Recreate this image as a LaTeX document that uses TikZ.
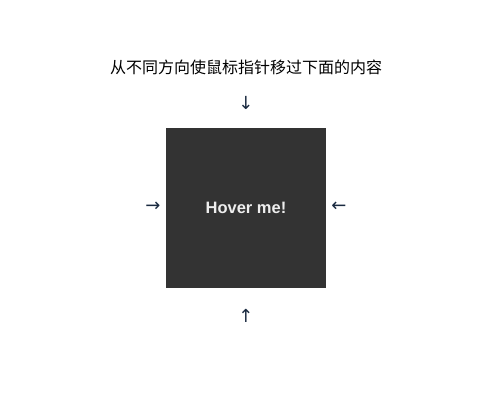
\documentclass[tikz,border=0pt]{standalone}
\usepackage{fontspec}
\setmainfont{Liberation Sans}
\newfontfamily\cjk{Noto Sans CJK SC}
\newfontfamily\arrowfont{DejaVu Sans}
\definecolor{boxgray}{HTML}{333333}
\definecolor{hovertext}{HTML}{EEEEEE}
\definecolor{arrowcol}{HTML}{1A2A40}
\begin{document}
\begin{tikzpicture}[x=1pt,y=-1pt,
  title/.style={font=\cjk\fontsize{16}{19}\selectfont, text=black, inner sep=0pt},
  hoverbox/.style={fill=boxgray, minimum width=160pt, minimum height=160pt, inner sep=0pt,
    text=hovertext, font=\bfseries\fontsize{16.5}{19}\selectfont},
  dirarrow/.style={font=\arrowfont\fontsize{18}{20}\selectfont, text=arrowcol, inner sep=0pt}]
\useasboundingbox (0,0) rectangle (500,400);
\node[title] (t) at (246,67) {从不同方向使鼠标指针移过下面的内容};
\node[hoverbox] (box) at (246,208) {Hover me!};
\node[dirarrow] (ad) at (246,103) {↓};
\node[dirarrow] (ar) at (153,207) {→};
\node[dirarrow] (al) at (339,207) {←};
\node[dirarrow] (au) at (246,316) {↑};
\end{tikzpicture}
\end{document}
